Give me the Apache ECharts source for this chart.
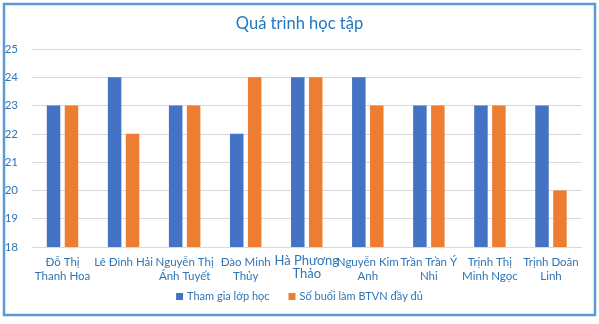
<!DOCTYPE html>
<html>
<head>
<meta charset="utf-8">
<script src="https://cdn.jsdelivr.net/npm/echarts@6/dist/echarts.min.js"></script>
<style>
  html, body { margin: 0; padding: 0; background: #fff; }
  #chart { width: 599px; height: 324px; }
</style>
</head>
<body>
<div id="chart"></div>
<script>
// Học sinh và số liệu
const students = [
  'Đỗ Thị\nThanh Hoa',
  'Lê Đình Hải',
  'Nguyễn Thị\nÁnh Tuyết',
  'Đào Minh\nThủy',
  'Hà Phương\nThảo',
  'Nguyễn Kim\nAnh',
  'Trần Trần Ý\nNhi',
  'Trịnh Thị\nMinh Ngọc',
  'Trịnh Doãn\nLinh'
];
const attendance = [23, 24, 23, 22, 24, 24, 23, 23, 23];
const homework = [23, 22, 23, 24, 24, 23, 23, 23, 20];
const seriesNames = ['Tham gia lớp học', 'Số buổi làm BTVN đầy đủ'];
const chartTitle = 'Quá trình học tập';

const FONT = 'Lato, "Open Sans", sans-serif';
const TEXT_BLUE = '#2F75B5';

const chart = echarts.init(document.getElementById('chart'), null, { renderer: 'canvas' });

chart.setOption({
  backgroundColor: '#fff',
  animation: false,
  title: {
    text: chartTitle,
    left: 'center',
    top: 10,
    textStyle: { color: '#1F77C4', fontSize: 16.5, fontWeight: 'normal', fontFamily: FONT }
  },
  graphic: [{
    type: 'rect',
    shape: { x: 4, y: 4, width: 591, height: 311 },
    style: { fill: 'none', stroke: '#5B9BD5', lineWidth: 2.5 },
    silent: true
  }],
  legend: {
    bottom: 17,
    left: 'center',
    itemWidth: 7,
    itemHeight: 7,
    itemGap: 19,
    icon: 'rect',
    textStyle: { color: TEXT_BLUE, fontSize: 11, fontFamily: FONT, padding: [0, 0, 0, -1] },
    data: seriesNames
  },
  grid: { left: 32, right: 17.5, top: 49, bottom: 77, containLabel: false },
  xAxis: {
    type: 'category',
    data: students.map((s, i) => i === 4
      ? { value: s, textStyle: { fontSize: 13, lineHeight: 12.5 } }
      : s),
    axisTick: { show: false },
    axisLine: { lineStyle: { color: '#D9D9D9', width: 1 } },
    axisLabel: {
      interval: 0,
      margin: 8,
      color: TEXT_BLUE,
      fontSize: 11.5,
      lineHeight: 14,
      fontFamily: FONT
    }
  },
  yAxis: {
    type: 'value',
    min: 18,
    max: 25,
    interval: 1,
    axisLine: { show: false },
    axisTick: { show: false },
    splitLine: { lineStyle: { color: '#D9D9D9', width: 1 } },
    axisLabel: { color: TEXT_BLUE, fontSize: 11.5, margin: 14, fontFamily: FONT }
  },
  series: [
    {
      name: seriesNames[0],
      type: 'bar',
      data: attendance,
      barWidth: 13.5,
      barGap: '33%',
      itemStyle: { color: '#4472C4' }
    },
    {
      name: seriesNames[1],
      type: 'bar',
      data: homework,
      barWidth: 13.5,
      itemStyle: { color: '#ED7D31' }
    }
  ]
});
</script>
</body>
</html>
